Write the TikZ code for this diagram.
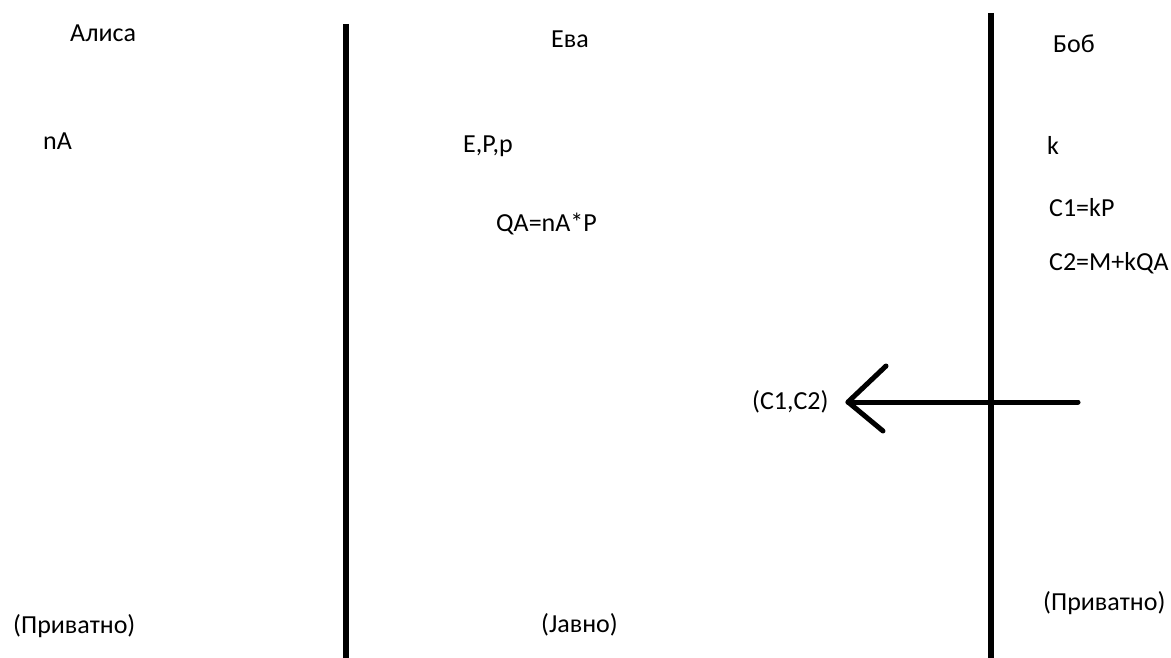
\documentclass[tikz,border=0pt]{standalone}
\usepackage{fontspec}
\setmainfont{Carlito}
\begin{document}
\begin{tikzpicture}[x=1pt,y=-1pt,
  lbl/.style={anchor=base west,inner sep=0pt,font=\fontsize{26}{30}\selectfont},
  foot/.style={anchor=base west,inner sep=0pt,font=\fontsize{26}{30}\selectfont},
  divider/.style={line width=5.5pt,black},
  msg/.style={line width=5pt,black,line cap=round,line join=round}]
\useasboundingbox (0,0) rectangle (1171,658);
% party names
\node[lbl] (alice) at (70,42) {Алиса};
\node[lbl] (eve)   at (551,48) {Ева};
\node[lbl] (bob)   at (1053,53) {Боб};
% Alice's private key
\node[lbl] (na) at (43,150) {nA};
% public parameters
\node[lbl] (params) at (463,153) {E,P,p};
\node[lbl] (qa)     at (496,231) {QA=nA*P};
% Bob's side
\node[lbl] (k)  at (1047,155) {k};
\node[lbl] (c1) at (1049,217) {C1=kP};
\node[lbl] (c2) at (1049,270) {C2=M+kQA};
% transmitted ciphertext
\node[lbl] (pair) at (752,409) {(C1,C2)};
% zone captions
\node[foot] (privA) at (13,633) {(Приватно)};
\node[foot] (pub)   at (541,632) {(Јавно)};
\node[foot] (privB) at (1043,610) {(Приватно)};
% zone dividers
\coordinate (d1top) at (346,24);
\coordinate (d1bot) at (346,658);
\coordinate (d2top) at (991,13);
\coordinate (d2bot) at (991,658);
\draw[divider] (d1top) -- (d1bot);
\draw[divider] (d2top) -- (d2bot);
% Bob sends (C1,C2) to Alice
\coordinate (src) at (1078,402);
\coordinate (tip) at (848,402);
\coordinate (barbU) at (886,366);
\coordinate (barbL) at (883,431);
\draw[msg] (src) -- (tip);
\draw[msg] (barbU) -- (tip) -- (barbL);
\end{tikzpicture}
\end{document}
